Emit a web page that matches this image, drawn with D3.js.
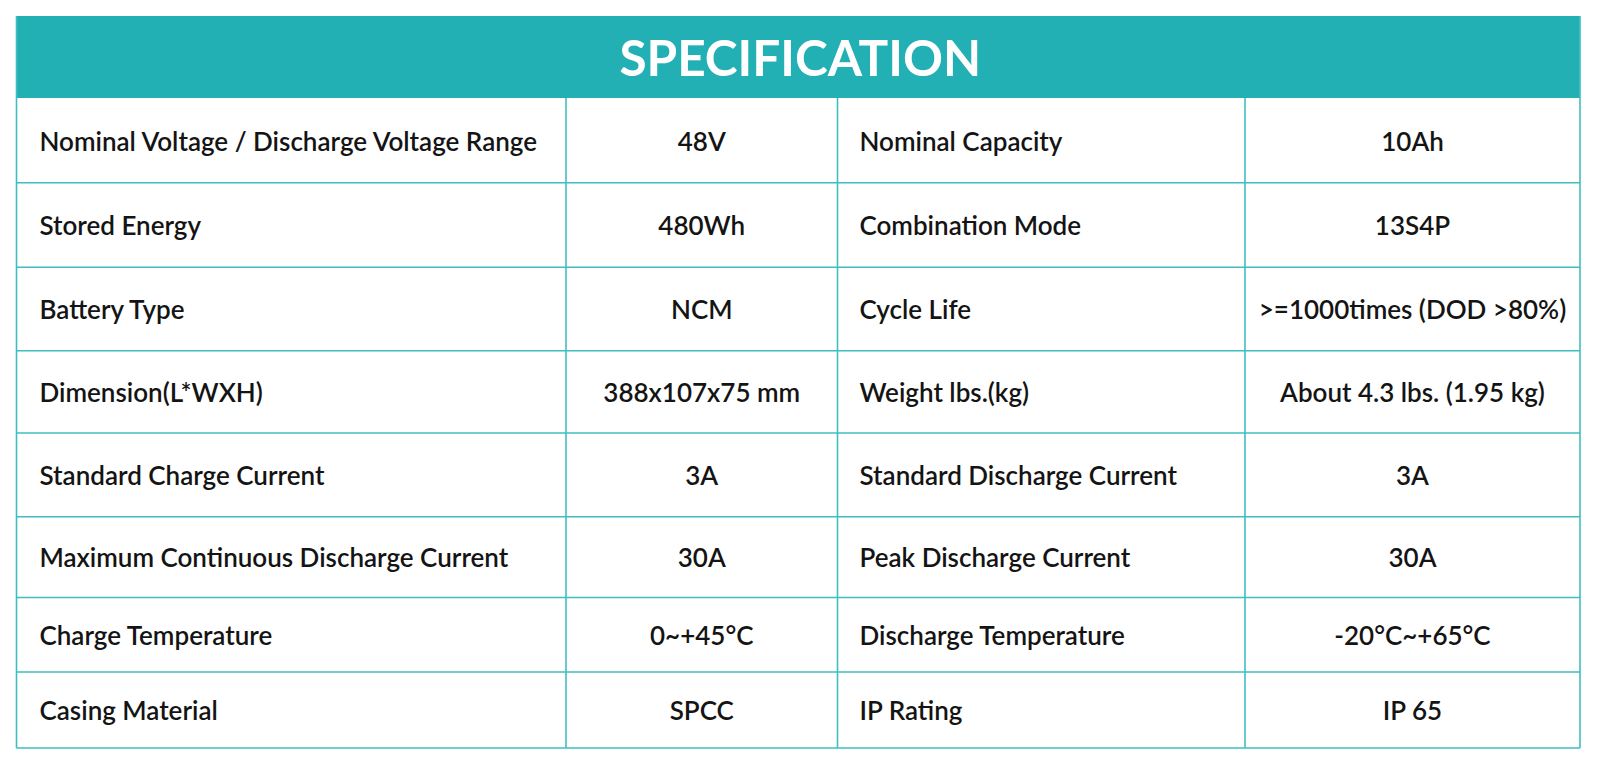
<!DOCTYPE html>
<html>
<head>
<meta charset="utf-8">
<script src="https://cdn.jsdelivr.net/npm/d3@7"></script>
<style>
  body { margin: 0; background: #fff; }
  svg text { font-family: Lato, "Open Sans", sans-serif; }
</style>
</head>
<body>
<script>
// table content
var title = "SPECIFICATION";
var leftLabels = ["Nominal Voltage / Discharge Voltage Range", "Stored Energy", "Battery Type", "Dimension(L*WXH)",
  "Standard Charge Current", "Maximum Continuous Discharge Current", "Charge Temperature", "Casing Material"];
var leftValues = ["48V", "480Wh", "NCM", "388x107x75 mm", "3A", "30A", "0~+45°C", "SPCC"];
var rightLabels = ["Nominal Capacity", "Combination Mode", "Cycle Life", "Weight lbs.(kg)",
  "Standard Discharge Current", "Peak Discharge Current", "Discharge Temperature", "IP Rating"];
var rightValues = ["10Ah", "13S4P", ">=1000times (DOD >80%)", "About 4.3 lbs. (1.95 kg)", "3A", "30A", "-20°C~+65°C", "IP 65"];

var svgWidth = 1600;
var svgHeight = 766;

// grid layout
var colEdges = [16.5, 566, 837.5, 1245, 1580];
var headerTop = 16;
var rowEdges = [98, 182.7, 267.3, 350.7, 433, 516.7, 597.5, 672, 748];
var lineColor = "#3fbec1";
var headColor = "#22b0b4";

var svg = d3.select("body").append("svg").attr("width", svgWidth).attr("height", svgHeight);

// header band
svg.append("rect")
  .attr("x", colEdges[0]).attr("y", headerTop)
  .attr("width", colEdges[4] - colEdges[0]).attr("height", rowEdges[0] - headerTop)
  .attr("fill", headColor);

svg.append("text")
  .attr("x", (colEdges[0] + colEdges[4]) / 2 + 2)
  .attr("y", 76)
  .attr("text-anchor", "middle")
  .attr("fill", "#fff")
  .attr("font-size", 49.5)
  .attr("font-weight", 700)
  .text(title);

var rows = leftLabels.map(function(d, i) {
  return [d, leftValues[i], rightLabels[i], rightValues[i]];
});

// grid lines
var gridGroup = svg.append("g").attr("stroke", lineColor).attr("stroke-width", 1.6);
rowEdges.slice(1).forEach(function(y) {
  gridGroup.append("line").attr("x1", colEdges[0]).attr("x2", colEdges[4]).attr("y1", y).attr("y2", y);
});
colEdges.forEach(function(x, j) {
  var top = (j === 0 || j === 4) ? headerTop : rowEdges[0];
  gridGroup.append("line").attr("x1", x).attr("x2", x).attr("y1", top).attr("y2", rowEdges[8]);
});

// cell text
var rowGroups = svg.selectAll("g.row")
  .data(rows)
  .enter()
  .append("g")
  .attr("class", "row");

rowGroups.selectAll("text")
  .data(function(d, i) { return d.map(function(t, j) { return {t: t, row: i, col: j}; }); })
  .enter()
  .append("text")
  .attr("x", function(d) {
    if (d.col === 0) return colEdges[0] + 23;
    if (d.col === 2) return colEdges[2] + 22;
    return (colEdges[d.col] + colEdges[d.col + 1]) / 2;
  })
  .attr("y", function(d) { return (rowEdges[d.row] + rowEdges[d.row + 1]) / 2 + 1; })
  .attr("dy", "0.36em")
  .attr("text-anchor", function(d) { return d.col % 2 === 0 ? "start" : "middle"; })
  .attr("fill", "#141414")
  .attr("font-size", 26)
  .attr("font-weight", 600)
  .text(function(d) { return d.t; });
</script>
</body>
</html>
